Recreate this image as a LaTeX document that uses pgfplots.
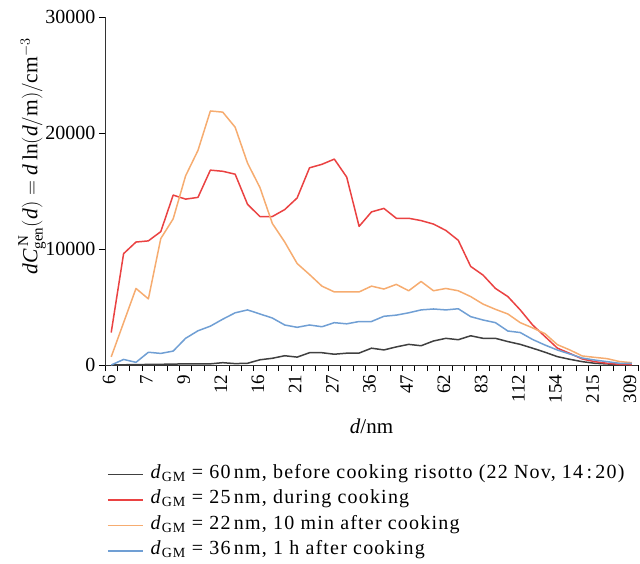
\documentclass[border=0pt]{standalone}
\usepackage{fontspec}
\setmainfont{Liberation Serif}
\newfontfamily\widefont[LetterSpace=6]{Liberation Serif}
\usepackage{amsmath}
\usepackage{pgfplots}
\pgfplotsset{compat=1.18}

\definecolor{cBlack}{HTML}{404040}
\definecolor{cRed}{HTML}{EA4242}
\definecolor{cOrange}{HTML}{F6AC70}
\definecolor{cBlue}{HTML}{709FD4}

\begin{document}
\begin{tikzpicture}
\path[use as bounding box] (0pt,0pt) rectangle (640pt,-563pt);
\begin{axis}[
  at={(105pt,-365pt)}, anchor=south west,
  width=533pt, height=348pt, scale only axis,
  xmin=-0.5, xmax=42.5, ymin=0, ymax=30000,
  clip=false,
  axis x line*=bottom, axis y line*=left,
  axis line style={draw=black!80, line width=0.9pt, -},
  xtick={0,3,...,42},
  xticklabels={6,7,9,12,16,21,27,36,47,62,83,112,154,215,309},
  major x tick style={draw=none},
  minor xtick={-0.5,0.5,...,42.5},
  minor tick length=6pt,
  major tick length=6pt,
  tick align=outside,
  tick style={black, line width=0.8pt},
  xticklabel style={xshift=-2pt, rotate=90, anchor=east, font=\fontsize{19}{21}\selectfont},
  ytick={0,10000,20000,30000},
  yticklabel style={font=\fontsize{20}{22}\selectfont},
  /pgf/number format/assume math mode=true,
  /pgf/number format/1000 sep={},
  scaled y ticks=false,
  xlabel={\textit{d}/nm},
  xlabel style={font=\fontsize{21}{23}\selectfont, at={(axis description cs:0.5,-0.145)}, anchor=north},
  ylabel={$\textit{dC}^{\,\text{N}}_{\text{gen}}(\textit{d}) = \textit{d}\,\text{ln}(\textit{d}/\text{m})/\text{cm}^{-3}$},
  ylabel style={font=\fontsize{21.5}{23}\selectfont, at={(axis description cs:-0.137,0.60)}, anchor=center},
  legend style={at={(axis description cs:-0.002,-0.272)}, anchor=north west, draw=none,
    font=\fontsize{20}{22}\widefont,
    nodes={text height=13.5pt, text depth=6pt, inner sep=3pt}},
  legend cell align=left,
  legend image code/.code={\draw[#1] (-2pt,0pt) -- (33pt,0pt);},
  every axis plot/.append style={line width=1.5pt, line join=round},
]
\addplot[cBlack] coordinates {
(0,0)(1,20)(2,30)(3,50)(4,60)(5,80)(6,100)(7,100)(8,100)(9,200)
(10,120)(11,150)(12,450)(13,580)(14,800)(15,680)(16,1060)(17,1060)(18,930)(19,1020)
(20,1030)(21,1450)(22,1300)(23,1560)(24,1780)(25,1660)(26,2070)(27,2300)(28,2180)(29,2520)
(30,2300)(31,2300)(32,2020)(33,1780)(34,1450)(35,1100)(36,720)(37,490)(38,290)(39,150)
(40,90)(41,50)(42,30)};
\addlegendentry{\hspace{4pt}\textit{d}\textsubscript{GM} = 60\,nm, before cooking risotto (22 Nov, 14\,:\,20)}
\addplot[cRed] coordinates {
(0,2800)(1,9600)(2,10600)(3,10700)(4,11500)(5,14650)(6,14300)(7,14450)(8,16800)(9,16700)
(10,16450)(11,13850)(12,12800)(13,12800)(14,13400)(15,14400)(16,17000)(17,17300)(18,17750)(19,16200)
(20,11950)(21,13200)(22,13500)(23,12650)(24,12650)(25,12450)(26,12150)(27,11600)(28,10750)(29,8500)
(30,7750)(31,6600)(32,5900)(33,4750)(34,3450)(35,2450)(36,1450)(37,1000)(38,520)(39,290)
(40,150)(41,60)(42,40)};
\addlegendentry{\hspace{4pt}\textit{d}\textsubscript{GM} = 25\,nm, during cooking}
\addplot[cOrange] coordinates {
(0,700)(1,3650)(2,6600)(3,5700)(4,10900)(5,12600)(6,16300)(7,18500)(8,21900)(9,21800)
(10,20500)(11,17400)(12,15300)(13,12200)(14,10600)(15,8750)(16,7800)(17,6800)(18,6300)(19,6300)
(20,6300)(21,6800)(22,6550)(23,6950)(24,6400)(25,7200)(26,6400)(27,6600)(28,6400)(29,5900)
(30,5250)(31,4800)(32,4400)(33,3650)(34,3200)(35,2700)(36,1750)(37,1300)(38,780)(39,660)
(40,550)(41,300)(42,200)};
\addlegendentry{\hspace{4pt}\textit{d}\textsubscript{GM} = 22\,nm, 10 min after cooking}
\addplot[cBlue] coordinates {
(0,0)(1,480)(2,230)(3,1100)(4,1000)(5,1200)(6,2300)(7,2950)(8,3350)(9,3950)
(10,4500)(11,4750)(12,4400)(13,4050)(14,3450)(15,3250)(16,3450)(17,3300)(18,3650)(19,3550)
(20,3750)(21,3750)(22,4200)(23,4300)(24,4500)(25,4750)(26,4830)(27,4750)(28,4850)(29,4170)
(30,3880)(31,3650)(32,2930)(33,2800)(34,2200)(35,1720)(36,1290)(37,950)(38,600)(39,430)
(40,290)(41,150)(42,140)};
\addlegendentry{\hspace{4pt}\textit{d}\textsubscript{GM} = 36\,nm, 1 h after cooking}
\end{axis}
\end{tikzpicture}
\end{document}
